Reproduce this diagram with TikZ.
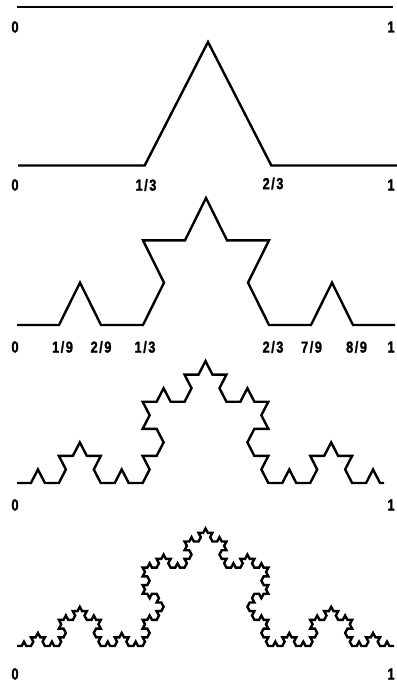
\documentclass[tikz,border=0pt]{standalone}
\usepackage{fontspec}
\newfontfamily\labfont{Liberation Sans Bold}[FakeStretch=0.8, FakeBold=1.5]
\gdef\kochpath{}
\newcommand\koch[3]{%
  \ifnum#1=0
    \xdef\kochpath{\kochpath -- ++(#2:#3)}%
  \else
    \begingroup
    \pgfmathtruncatemacro\kl{#1-1}%
    \pgfmathsetmacro\kn{#3/3}%
    \pgfmathsetmacro\ka{#2+60}%
    \pgfmathsetmacro\kb{#2-60}%
    \edef\knext{\noexpand\koch{\kl}{#2}{\kn}\noexpand\koch{\kl}{\ka}{\kn}\noexpand\koch{\kl}{\kb}{\kn}\noexpand\koch{\kl}{#2}{\kn}}%
    \knext
    \endgroup
  \fi}
\newcommand\fr[2]{#1\kern1.5pt/\kern1.5pt#2}
\tikzset{
  kline/.style={line width=2.4pt, line join=miter, black},
  lab/.style={font=\labfont\fontsize{16}{16}\selectfont, inner sep=0pt, anchor=center}
}
\begin{document}
\begin{tikzpicture}[x=1pt,y=1pt]
\useasboundingbox (0,0) rectangle (396,-684);
% level 0
\coordinate (a0) at (17,-7);
\coordinate (b0) at (393,-7);
\draw[kline] (a0) -- (b0);
\node[lab] (l0a) at (15,-27) {0};
\node[lab] (l0b) at (391,-27) {1};
% level 1
\begin{scope}[shift={(18,-165.5)}, yscale=1.126]
\gdef\kochpath{}\koch{1}{0}{380}
\coordinate (s1) at (0,0);
\draw[kline] (s1) \kochpath;
\end{scope}
\node[lab] (l1a) at (15,-185) {0};
\node[lab] (l1b) at (146,-185) {\fr{1}{3}};
\node[lab] (l1c) at (273,-183.5) {\fr{2}{3}};
\node[lab] (l1d) at (391,-185) {1};
% level 2
\begin{scope}[shift={(17,-325)}, yscale=1.164]
\gdef\kochpath{}\koch{2}{0}{378}
\coordinate (s2) at (0,0);
\draw[kline] (s2) \kochpath;
\end{scope}
\node[lab] (l2a) at (15,-347) {0};
\node[lab] (l2b) at (62.5,-347) {\fr{1}{9}};
\node[lab] (l2c) at (101,-347) {\fr{2}{9}};
\node[lab] (l2d) at (145,-347) {\fr{1}{3}};
\node[lab] (l2e) at (273,-347) {\fr{2}{3}};
\node[lab] (l2f) at (311.5,-347) {\fr{7}{9}};
\node[lab] (l2g) at (356.5,-347) {\fr{8}{9}};
\node[lab] (l2h) at (391,-347) {1};
% level 3
\begin{scope}
\clip (0,-300) rectangle (384,-495);
\begin{scope}[shift={(17,-483)}, yscale=1.12]
\gdef\kochpath{}\koch{3}{0}{377}
\coordinate (s3) at (0,0);
\draw[kline] (s3) \kochpath;
\end{scope}
\end{scope}
\node[lab] (l3a) at (15,-505) {0};
\node[lab] (l3b) at (391,-505) {1};
% level 4
\begin{scope}[shift={(17,-646)}, yscale=1.08]
\gdef\kochpath{}\koch{4}{0}{377}
\coordinate (s4) at (0,0);
\draw[kline] (s4) \kochpath;
\end{scope}
\node[lab] (l4a) at (15,-674) {0};
\node[lab] (l4b) at (391,-674) {1};
\end{tikzpicture}
\end{document}
